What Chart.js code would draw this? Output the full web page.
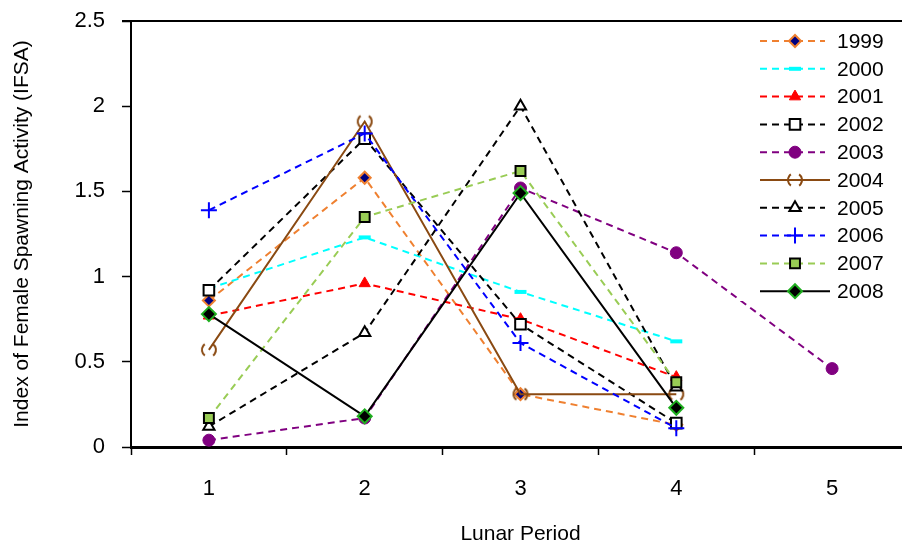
<!DOCTYPE html>
<html>
<head>
<meta charset="utf-8">
<script src="https://cdn.jsdelivr.net/npm/chart.js@4/dist/chart.umd.min.js"></script>
<style>
  html, body { margin: 0; padding: 0; background: #fff; overflow: hidden; }
  #wrap { width: 902px; height: 547px; overflow: hidden; }
  #ifsa { width: 910px; height: 547px; }
</style>
</head>
<body>
<div id="wrap"><canvas id="ifsa" width="910" height="547"></canvas></div>
<script>
const periods = ['1', '2', '3', '4', '5'];
const years = ['1999', '2000', '2001', '2002', '2003', '2004', '2005', '2006', '2007', '2008'];
const yTicks = [0, 0.5, 1, 1.5, 2, 2.5];

const v1999 = [0.86, 1.58, 0.31, 0.13, null];
const v2000 = [0.93, 1.23, 0.91, 0.62, null];
const v2001 = [0.77, 0.96, 0.75, 0.41, null];
const v2002 = [0.92, 1.81, 0.72, 0.14, null];
const v2003 = [0.04, 0.17, 1.52, 1.14, 0.46];
const v2004 = [0.57, 1.91, 0.31, 0.31, null];
const v2005 = [0.12, 0.67, 2.0, 0.35, null];
const v2006 = [1.39, 1.84, 0.61, 0.11, null];
const v2007 = [0.17, 1.35, 1.62, 0.38, null];
const v2008 = [0.78, 0.18, 1.49, 0.23, null];

const FONT = "'Liberation Sans', Arial, sans-serif";
const brown = '#8a4a12';

// "( )" marker used for 2004
const paren = document.createElement('canvas');
paren.width = 18; paren.height = 18;
const pc = paren.getContext('2d');
pc.strokeStyle = brown;
pc.lineWidth = 2;
pc.beginPath(); pc.arc(9, 9, 7, Math.PI * 0.7, Math.PI * 1.3); pc.stroke();
pc.beginPath(); pc.arc(9, 9, 7, -Math.PI * 0.3, Math.PI * 0.3); pc.stroke();

const styles = [
  { data: v1999, line: '#ef8030', dash: true, ps: 'rectRot', r: 6, bg: '#000080', bc: '#ef8030', bw: 2 },
  { data: v2000, line: '#00ffff', dash: true, ps: 'line', r: 6, bg: '#00ffff', bc: '#00ffff', bw: 4 },
  { data: v2001, line: '#ff0000', dash: true, ps: 'triangle', r: 6.5, bg: '#ff0000', bc: '#ff0000', bw: 1 },
  { data: v2002, line: '#000000', dash: true, ps: 'rect', r: 7.5, bg: '#ffffff', bc: '#000000', bw: 2 },
  { data: v2003, line: '#800080', dash: true, ps: 'circle', r: 6, bg: '#800080', bc: '#800080', bw: 1 },
  { data: v2004, line: brown, dash: false, ps: paren, r: 7, bg: brown, bc: brown, bw: 2 },
  { data: v2005, line: '#000000', dash: true, ps: 'triangle', r: 6.5, bg: '#ffffff', bc: '#000000', bw: 2 },
  { data: v2006, line: '#0000ff', dash: true, ps: 'cross', r: 8, bg: '#0000ff', bc: '#0000ff', bw: 2 },
  { data: v2007, line: '#99cc55', dash: true, ps: 'rect', r: 7, bg: '#99cc55', bc: '#000000', bw: 2 },
  { data: v2008, line: '#000000', dash: false, ps: 'rectRot', r: 7, bg: '#000000', bc: '#1fae1f', bw: 2 }
];

const datasets = styles.map((s, i) => ({
  label: years[i],
  data: s.data,
  borderColor: s.line,
  borderWidth: 2,
  borderDash: s.dash ? [7, 5] : [],
  pointStyle: s.ps,
  pointRadius: s.r,
  pointHoverRadius: s.r,
  pointBackgroundColor: s.bg,
  pointBorderColor: s.bc,
  pointBorderWidth: s.bw,
  tension: 0,
  fill: false,
  clip: false,
  order: years.length - i
}));

// top frame line + in-plot legend
const framePlugin = {
  id: 'frame',
  afterDraw(chart) {
    const { ctx, chartArea } = chart;
    ctx.save();
    ctx.strokeStyle = '#000';
    ctx.lineWidth = 2;
    ctx.beginPath();
    ctx.moveTo(chartArea.left - 9, chartArea.top);
    ctx.lineTo(chart.width, chartArea.top);
    ctx.stroke();

    ctx.fillStyle = '#fff';
    ctx.fillRect(738, chartArea.top + 2, chart.width - 738, 278);

    styles.forEach((s, i) => {
      const y = 41 + i * 27.8;
      ctx.strokeStyle = s.line;
      ctx.lineWidth = 2;
      ctx.setLineDash(s.dash ? [7, 5] : []);
      ctx.beginPath();
      ctx.moveTo(760, y);
      ctx.lineTo(s.dash ? 825 : 830, y);
      ctx.stroke();
      ctx.setLineDash([]);
      ctx.fillStyle = s.bg;
      ctx.strokeStyle = s.bc;
      ctx.lineWidth = s.bw;
      Chart.helpers.drawPoint(ctx, { pointStyle: s.ps, radius: s.r, borderWidth: s.bw, rotation: 0 }, 795, y);
      ctx.fillStyle = '#000';
      ctx.font = '21px ' + FONT;
      ctx.textBaseline = 'middle';
      ctx.textAlign = 'left';
      ctx.fillText(years[i], 837, y + 1);
    });
    ctx.restore();
  }
};

new Chart(document.getElementById('ifsa'), {
  type: 'line',
  data: { labels: periods, datasets: datasets },
  plugins: [framePlugin],
  options: {
    responsive: false,
    animation: false,
    layout: { autoPadding: false, padding: { top: 21, right: 0, bottom: 0, left: 0 } },
    plugins: { legend: { display: false }, tooltip: { enabled: false } },
    scales: {
      x: {
        type: 'category',
        offset: true,
        grid: { offset: true, drawOnChartArea: false, tickLength: 8, color: '#000', tickWidth: 1.5 },
        border: { color: '#000', width: 3 },
        ticks: { color: '#000', font: { family: FONT, size: 22 }, padding: 21 },
        title: { display: true, text: 'Lunar Period', color: '#000', font: { family: FONT, size: 21 }, padding: { top: 0, bottom: 0 } },
        afterFit(scale) { scale.height = 100; scale.paddingLeft = 0; scale.paddingRight = 0; }
      },
      y: {
        min: 0,
        max: 2.5,
        afterBuildTicks(scale) { scale.ticks = yTicks.map(v => ({ value: v })); },
        grid: { drawOnChartArea: false, tickLength: 9, color: '#000', tickWidth: 1.5 },
        border: { color: '#000', width: 2 },
        ticks: { color: '#000', font: { family: FONT, size: 22 }, padding: 17, callback: v => String(v) },
        title: { display: true, text: 'Index of Female Spawning Activity (IFSA)', color: '#000', font: { family: FONT, size: 21 }, padding: { top: 10, bottom: 0 } },
        afterFit(scale) { scale.width = 131; scale.paddingTop = 0; scale.paddingBottom = 0; }
      }
    }
  }
});
</script>
</body>
</html>
